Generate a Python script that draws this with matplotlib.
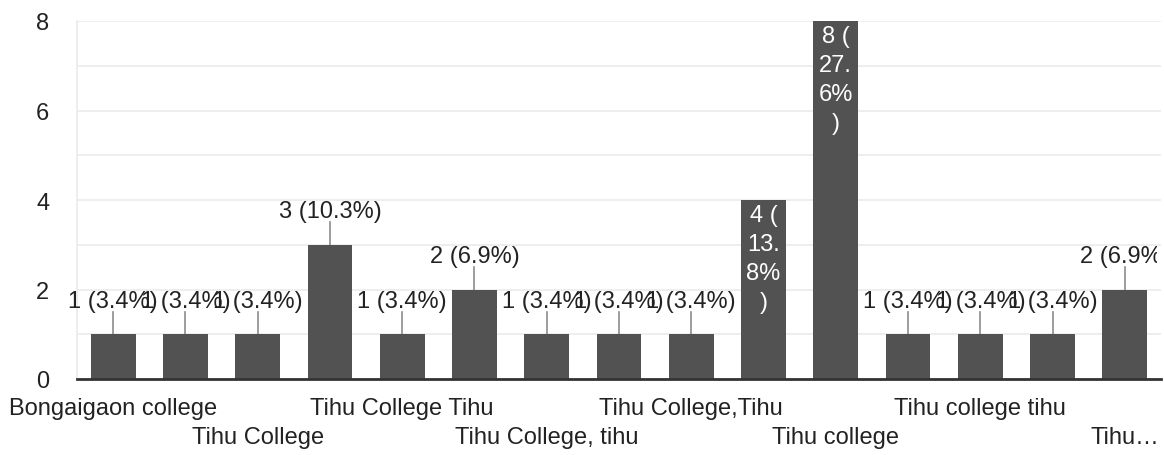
import matplotlib.pyplot as plt
from matplotlib.patches import Rectangle

plt.rcParams['font.family'] = ['Liberation Sans', 'DejaVu Sans']

# Данные: количество ответов по каждому варианту
counts = [1, 1, 1, 3, 1, 2, 1, 1, 1, 4, 8, 1, 1, 1, 2]
total = 29
# Подписи по оси X (показана только каждая вторая)
tick_labels = ["Bongaigaon college", "Tihu College", "Tihu College Tihu",
               "Tihu College, tihu", "Tihu College,Tihu", "Tihu college",
               "Tihu college tihu", "Tihu…"]
y_ticks = [0, 2, 4, 6, 8]

bar_color = '#525252'
text_color = '#222222'
fs = 17

fig = plt.figure(figsize=(11.64, 4.56), dpi=100)
ax = fig.add_axes([77 / 1164, 76 / 456, 1084 / 1164, 358 / 456])

x = list(range(len(counts)))
ax.bar(x, counts, width=0.62, color=bar_color, zorder=3)

ax.set_xlim(-0.5, len(counts) - 0.5)
ax.set_ylim(0, 8)

# Сетка: каждая единица
for g in range(0, 9):
    ax.axhline(g, color='#ebebeb', lw=1.2, zorder=1)

for s in ['top', 'right']:
    ax.spines[s].set_visible(False)
ax.spines['left'].set_color('#ebebeb')
ax.spines['left'].set_linewidth(1.2)
ax.spines['bottom'].set_color('#333333')
ax.spines['bottom'].set_linewidth(2)
ax.spines['bottom'].set_zorder(4)

ax.set_yticks(y_ticks)
ax.set_yticklabels([str(v) for v in y_ticks], fontsize=fs, color=text_color)
ax.tick_params(axis='y', length=0, pad=20)
ax.set_xticks([])

# Подписи категорий в два ряда
for i, lab in enumerate(tick_labels):
    pos = i * 2
    y = -0.081 if i % 2 == 0 else -0.162
    ax.text(pos, y, lab, transform=ax.get_xaxis_transform(), ha='center',
            va='center', fontsize=fs, color=text_color, clip_on=False)

# обрезка подписей справа (как в оригинале)
clip_rect = Rectangle((0, 0), 1157 / 1164, 1, transform=fig.transFigure)

# Подписи значений
for xi, c in zip(x, counts):
    pct = round(c / total * 100, 1)
    if c <= 3:
        ax.plot([xi, xi], [c, c + 0.5], color='#8c8c8c', lw=1.2, zorder=2)
        t = ax.text(xi, c + 0.5, f"{c} ({pct}%)", ha='center', va='bottom',
                    fontsize=fs, color=text_color, zorder=5)
        t.set_clip_path(clip_rect)
        t.set_clip_on(True)
    else:
        s = f"{pct}%"
        lab = f"{c} (\n{s[:3]}\n{s[3:]}\n)"
        ax.text(xi, c - 0.1, lab, ha='center', va='top', fontsize=fs,
                color='white', linespacing=1.4, zorder=5)

fig.savefig('out.png', dpi=100)
